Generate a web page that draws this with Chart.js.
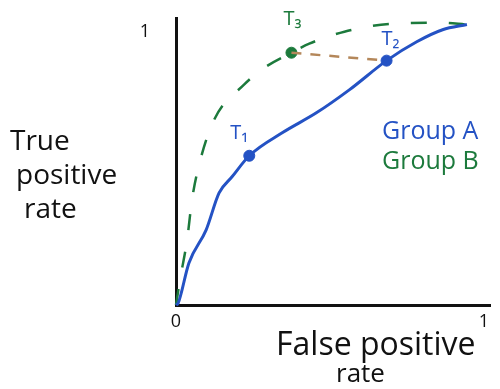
<!DOCTYPE html>
<html>
<head>
<meta charset="utf-8">
<script src="https://cdn.jsdelivr.net/npm/chart.js@4"></script>
<style>
html,body{margin:0;padding:0;background:#fff;}
#wrap{width:500px;height:389px;position:relative;}
</style>
</head>
<body>
<div id="wrap"><canvas id="c" width="500" height="389"></canvas></div>
<script>
// ROC curve data (false positive rate, true positive rate)
const fprA = [0, 0.007, 0.042, 0.098, 0.140, 0.182, 0.238, 0.345, 0.456, 0.564, 0.684, 0.782, 0.866, 0.945];
const tprA = [0, 0.007, 0.154, 0.275, 0.410, 0.469, 0.546, 0.630, 0.703, 0.788, 0.894, 0.963, 1.007, 1.026];
const fprB = [0, 0.013, 0.036, 0.052, 0.075, 0.124, 0.221, 0.287, 0.375, 0.433, 0.547, 0.700, 0.860, 0.945];
const tprB = [0, 0.092, 0.238, 0.385, 0.513, 0.678, 0.806, 0.868, 0.923, 0.956, 1.000, 1.029, 1.033, 1.026];
// thresholds
const thrNames = ["T₁", "T₂", "T₃"];
const thrFpr = [0.238, 0.684, 0.375];
const thrTpr = [0.546, 0.894, 0.923];
const thrGroup = ["A", "A", "B"];
const xTicks = [0, 1];
const yTicks = [1];
const seriesNames = ["Group A", "Group B"];

const BLUE = "#2452c4", GREEN = "#1c7a3c", BROWN = "#b4875a", INK = "#111";
const FONT = "'Open Sans', 'DejaVu Sans', sans-serif";

const pts = (xs, ys) => xs.map((x, i) => ({x, y: ys[i]}));

const labelPlugin = {
  id: 'labels',
  afterDatasetsDraw(chart) {
    const {ctx, scales: {x, y}} = chart;
    ctx.save();
    const offs = [[-10, -22], [4, -21], [1, -33]];
    ctx.textAlign = 'center';
    ctx.textBaseline = 'middle';
    ctx.font = "20px " + FONT;
    thrNames.forEach((n, i) => {
      ctx.fillStyle = thrGroup[i] === "A" ? BLUE : GREEN;
      ctx.fillText(n, x.getPixelForValue(thrFpr[i]) + offs[i][0], y.getPixelForValue(thrTpr[i]) + offs[i][1]);
    });
    ctx.textAlign = 'left';
    ctx.textBaseline = 'alphabetic';
    ctx.font = "25px " + FONT;
    ctx.fillStyle = BLUE;
    ctx.fillText(seriesNames[0], 382, 139);
    ctx.fillStyle = GREEN;
    ctx.fillText(seriesNames[1], 382, 169);
    ctx.fillStyle = INK;
    ctx.font = "28px " + FONT;
    ctx.fillText("True", 10, 150);
    ctx.fillText("positive", 16, 184);
    ctx.fillText("rate", 24, 218);
    ctx.font = "32px " + FONT;
    ctx.fillText("False positive", 276, 355);
    ctx.font = "26px " + FONT;
    ctx.fillText("rate", 336, 382);
    ctx.restore();
  }
};

new Chart(document.getElementById('c'), {
  type: 'scatter',
  data: {
    datasets: [
      {label: seriesNames[0], data: pts(fprA, tprA), showLine: true, borderColor: BLUE, borderWidth: 3,
       pointRadius: 0, cubicInterpolationMode: 'monotone', clip: false},
      {label: seriesNames[1], data: pts(fprB, tprB), showLine: true, borderColor: GREEN, borderWidth: 2.5,
       borderDash: [16, 22], pointRadius: 0, cubicInterpolationMode: 'monotone', clip: false},
      {label: 'gap', data: [{x: thrFpr[2], y: thrTpr[2]}, {x: thrFpr[1], y: thrTpr[1]}], showLine: true,
       borderColor: BROWN, borderWidth: 2.5, borderDash: [10, 9], pointRadius: 0, clip: false},
      {label: 'thr', data: pts(thrFpr, thrTpr), showLine: false,
       pointRadius: 5.5, pointBackgroundColor: thrGroup.map(g => g === "A" ? BLUE : GREEN),
       pointBorderColor: thrGroup.map(g => g === "A" ? BLUE : GREEN), clip: false}
    ]
  },
  options: {
    responsive: false,
    animation: false,
    layout: {padding: {left: 136, right: 10, top: 18, bottom: 0}},
    plugins: {legend: {display: false}, tooltip: {enabled: false}},
    scales: {
      x: {
        type: 'linear', min: 0, max: 1.02,
        afterBuildTicks: s => { s.ticks = xTicks.map(v => ({value: v})); },
        afterFit: s => { s.height = 84; s.paddingLeft = 0; s.paddingRight = 0; },
        grid: {display: false, drawTicks: false},
        border: {display: true, color: INK, width: 3},
        ticks: {color: INK, font: {family: FONT, size: 18}, padding: 6}
      },
      y: {
        type: 'linear', min: 0, max: 1.05,
        afterBuildTicks: s => { s.ticks = yTicks.map(v => ({value: v})); },
        afterFit: s => { s.width = 40; s.paddingTop = 0; s.paddingBottom = 0; },
        grid: {display: false, drawTicks: false},
        border: {display: true, color: INK, width: 3},
        ticks: {color: INK, font: {family: FONT, size: 18}, padding: 26}
      }
    }
  },
  plugins: [labelPlugin]
});
</script>
</body>
</html>
